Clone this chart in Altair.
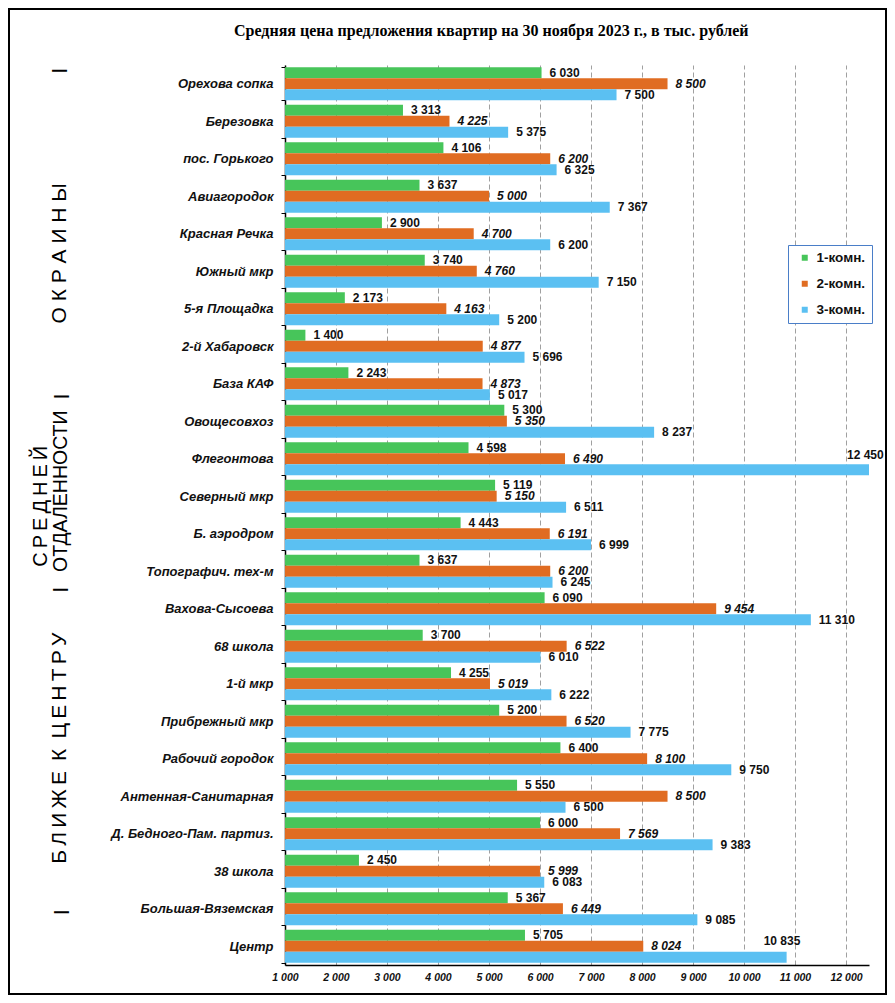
import altair as alt
import pandas as pd

# ---------------- data ----------------
cats = [
    "Орехова сопка", "Березовка", "пос. Горького", "Авиагородок", "Красная Речка",
    "Южный мкр", "5-я Площадка", "2-й Хабаровск", "База КАФ", "Овощесовхоз",
    "Флегонтова", "Северный мкр", "Б. аэродром", "Топографич. тех-м", "Вахова-Сысоева",
    "68 школа", "1-й мкр", "Прибрежный мкр", "Рабочий городок", "Антенная-Санитарная",
    "Д. Бедного-Пам. партиз.", "38 школа", "Большая-Вяземская", "Центр",
]
one_room = [6030, 3313, 4106, 3637, 2900, 3740, 2173, 1400, 2243, 5300,
            4598, 5119, 4443, 3637, 6090, 3700, 4255, 5200, 6400, 5550,
            6000, 2450, 5367, 5705]
two_room = [8500, 4225, 6200, 5000, 4700, 4760, 4163, 4877, 4873, 5350,
            6490, 5150, 6191, 6200, 9454, 6522, 5019, 6520, 8100, 8500,
            7569, 5999, 6449, 8024]
three_room = [7500, 5375, 6325, 7367, 6200, 7150, 5200, 5696, 5017, 8237,
              12450, 6511, 6999, 6245, 11310, 6010, 6222, 7775, 9750, 6500,
              9383, 6083, 9085, 10835]
types = ["1-комн.", "2-комн.", "3-комн."]
x_ticks = [1000, 2000, 3000, 4000, 5000, 6000, 7000, 8000, 9000, 10000, 11000, 12000]
title_text = "Средняя цена предложения квартир на 30 ноября 2023 г., в тыс. рублей"

# group captions on the left (text, anchor category)
group_texts = ["I", "О К Р А И Н Ы", "I", "ОТДАЛЕННОСТИ", "С\u2009Р\u2009Е\u2009Д\u2009Н\u2009Е\u2009Й", "I",
               "Б\u2009Л\u2009И\u2009Ж\u2009Е \u2009К\u2009 Ц\u2009Е\u2009Н\u2009Т\u2009Р\u2009У", "I"]
group_anchor = ["Орехова сопка", "Южный мкр", "База КАФ", "Северный мкр", "Северный мкр",
                "Вахова-Сысоева", "Рабочий городок", "Большая-Вяземская"]

# ---------------- styling ----------------
SANS = "Liberation Sans, Arial, sans-serif"
SERIF = "Liberation Serif, Times New Roman, serif"
colors = ["#47C55A", "#E06C22", "#5BC0F2"]
W, H = 584, 900
PAD = {"left": 277, "top": 57, "right": 18, "bottom": 30}
# layout of group captions: (x pixel relative to plot, shift up along the axis, font size)
group_layout = [(-225, 13, 22), (-225, 18, 21), (-223.5, -12.6, 22), (-224, 5, 19.5),
                (-244.5, -10, 20), (-224, 19, 22), (-225, 10.5, 21), (-223, -3.5, 22)]
label_shift = {("Флегонтова", "3-комн."): (-22, -15), ("Центр", "3-комн."): (-23, -16)}

rows = []
for i, c in enumerate(cats):
    for t, arr in zip(types, (one_room, two_room, three_room)):
        v = arr[i]
        rows.append({"cat": c, "type": t, "value": v,
                     "label": f"{v:,}".replace(",", " ")})
df = pd.DataFrame(rows)

def style_of(c, t):
    if (c, t) in label_shift:
        return "special_" + str(list(label_shift).index((c, t)))
    return "italic" if t == "2-комн." else "normal"

df["style"] = [style_of(c, t) for c, t in zip(df["cat"], df["type"])]

y_axis = alt.Axis(title=None, labelFont=SANS, labelFontSize=13, labelFontWeight="bold",
                  labelFontStyle="italic", labelColor="#111", tickBand="extent", tickSize=4,
                  tickColor="black", domainColor="black", domainWidth=1.5, labelPadding=8,
                  labelLimit=300, grid=False)
x_axis = alt.Axis(title=None, values=x_ticks,
                  labelExpr="replace(format(datum.value, ','), ',', ' ')",
                  labelFont=SANS, labelFontSize=10.5, labelFontWeight="bold",
                  labelFontStyle="italic", labelColor="#111", ticks=False, labelPadding=7,
                  labelFlush=False, domainColor="black", domainWidth=1.5, grid=True,
                  gridDash=[5, 3], gridColor="#a0a0a0", gridWidth=1)

Y = alt.Y("cat:N", sort=cats, scale=alt.Scale(paddingInner=0.119, paddingOuter=0.06), axis=y_axis)
YO = alt.YOffset("type:N", sort=types)

base = alt.Chart(df)

bars = base.mark_bar().encode(
    y=Y, yOffset=YO,
    x=alt.X("value:Q", scale=alt.Scale(domain=[1000, 12450], nice=False, zero=False), axis=x_axis),
    x2=alt.datum(1000),
    color=alt.Color("type:N", sort=types, scale=alt.Scale(domain=types, range=colors),
                    legend=alt.Legend(title=None, orient="none", legendX=503, legendY=180,
                                      direction="vertical", symbolType="square", symbolSize=36,
                                      symbolStrokeWidth=0, labelFont=SANS, labelFontSize=13.5,
                                      labelFontWeight="bold", labelColor="#111",
                                      strokeColor="#4A7EC8", fillColor="white", padding=6,
                                      rowPadding=11, labelOffset=5, symbolOffset=4)),
)

def value_text(style, dx, dy, italic):
    return base.transform_filter(f"datum.style == '{style}'").mark_text(
        align="left", baseline="middle", dx=dx, dy=dy, font=SANS, fontSize=12,
        fontWeight="bold", fontStyle="italic" if italic else "normal", color="#111"
    ).encode(y=Y, yOffset=YO, x=alt.X("value:Q"), text="label:N")

layers = [bars, value_text("normal", 8, 0, False), value_text("italic", 8, 0, True)]
for k, (key, (dx, dy)) in enumerate(label_shift.items()):
    layers.append(value_text(f"special_{k}", dx, dy, key[1] == "2-комн."))

for txt, anchor, (px, shift, fs) in zip(group_texts, group_anchor, group_layout):
    layers.append(
        alt.Chart(pd.DataFrame({"cat": [anchor], "txt": [txt]})).mark_text(
            angle=270, align="center", baseline="middle", dx=shift, font=SANS,
            fontSize=fs, color="black"
        ).encode(y=alt.Y("cat:N", sort=cats), x=alt.value(px), text="txt:N")
    )

frame = alt.Chart(pd.DataFrame({"f": [0]})).mark_rect(
    fillOpacity=0, stroke="black", strokeWidth=2
).encode(x=alt.value(-PAD["left"] + 1), x2=alt.value(W + PAD["right"] - 1),
         y=alt.value(-PAD["top"] + 1), y2=alt.value(H + PAD["bottom"] - 1))
layers.append(frame)

chart = alt.layer(*layers).properties(
    width=W, height=H, padding=PAD, autosize=alt.AutoSizeParams(type="none"),
    title=alt.Title(text=title_text, font=SERIF, fontSize=16, fontWeight="bold", color="black",
                    anchor="start", frame="group", dx=-51, offset=-31),
).configure_view(stroke=None)

chart.save("out.html", embed_options={"renderer": "svg", "actions": False})
